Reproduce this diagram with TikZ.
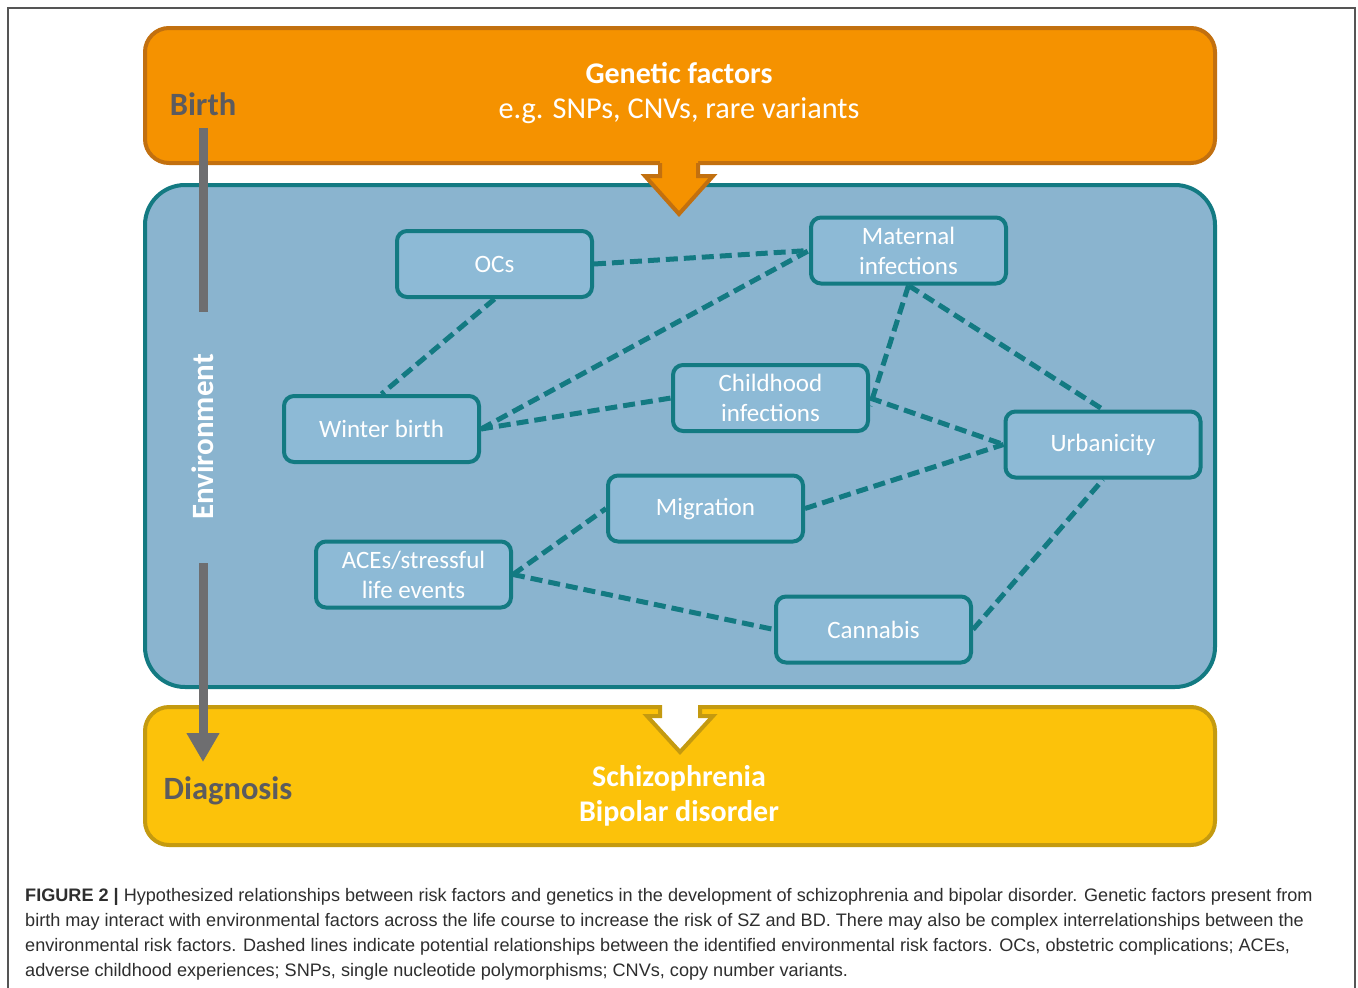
\documentclass[tikz,border=0pt]{standalone}
\usepackage{fontspec}
\setmainfont{Carlito}
\newfontfamily\capfont{Liberation Sans}
\usetikzlibrary{arrows.meta}
\definecolor{orfill}{HTML}{F59200}
\definecolor{ordraw}{HTML}{C2700F}
\definecolor{bluebg}{HTML}{8AB4CF}
\definecolor{teal}{HTML}{137A82}
\definecolor{nodefill}{HTML}{8DBAD6}
\definecolor{yelfill}{HTML}{FCC20A}
\definecolor{yeldraw}{HTML}{C49A10}
\definecolor{bargray}{HTML}{6E6E70}
\definecolor{txtgray}{HTML}{5B5B5F}
\definecolor{framegray}{HTML}{555555}
\definecolor{captxt}{HTML}{2E2E2E}
\tikzset{
  factor/.style={draw=teal, fill=nodefill, line width=4, rounded corners=10,
    minimum width=195, minimum height=66, align=center, text=white,
    font=\fontsize{25}{30}\selectfont, inner sep=0},
  link/.style={draw=teal, line width=5, dash pattern=on 12 off 6},
  bigbox/.style={line width=4, minimum width=1070, inner sep=0},
  title/.style={text=white, font=\fontsize{30}{35}\selectfont\bfseries, align=center},
  side/.style={text=txtgray, font=\fontsize{32.5}{36}\selectfont\bfseries},
  bar/.style={draw=bargray, line width=9}
}
\begin{document}
\begin{tikzpicture}[x=1pt,y=-1pt]
\useasboundingbox (0,0) rectangle (1358,988);
\fill[white] (0,0) rectangle (1358,988);
\draw[framegray, line width=1.2] (8,1000) -- (8,8) -- (1355,8) -- (1355,1000);
% big boxes
\node[bigbox, draw=ordraw, fill=orfill, rounded corners=24, minimum height=135] (gen) at (680,95.5) {};
\node[bigbox, draw=teal, fill=bluebg, rounded corners=40, minimum height=502] (env) at (680,436) {};
\node[bigbox, draw=yeldraw, fill=yelfill, rounded corners=24, minimum height=138] (diag) at (680,776) {};
% top arrow
\fill[orfill] (660,158) -- (660,176) -- (645,176) -- (679,214) -- (713,176) -- (698,176) -- (698,158) -- cycle;
\draw[ordraw, line width=4, line join=miter] (660,163) -- (660,176) -- (645,176) -- (679,214) -- (713,176) -- (698,176) -- (698,163);
% bottom arrow
\fill[white] (660,700) -- (660,716) -- (647,716) -- (680,752) -- (713,716) -- (700,716) -- (700,700) -- cycle;
\draw[yeldraw, line width=4, line join=miter] (660,705) -- (660,716) -- (647,716) -- (680,752) -- (713,716) -- (700,716) -- (700,705);
% texts of big boxes
\node[title] (gentxt) at (679,93) {Genetic factors\\[0pt]\mdseries\fontsize{30.3}{35}\selectfont e.g. SNPs, CNVs, rare variants};
\node[title] (diagtxt) at (679,796) {Schizophrenia\\[0pt]Bipolar disorder};
\node[side] (birth) at (203,104) {Birth};
\node[side] (dgn) at (228,791) {Diagnosis};
\node[title, rotate=90, font=\fontsize{31}{35}\selectfont\bfseries] (envtxt) at (203,437) {Environment};
% time bar
\coordinate (b1) at (203,128);
\coordinate (b2) at (203,312);
\coordinate (b3) at (203,563);
\coordinate (b4) at (203,762);
\draw[bar] (b1) -- (b2);
\draw[bar, -{Triangle[width=31,length=29]}] (b3) -- (b4);
% factor nodes
\node[factor] (ocs) at (494.5,264) {OCs};
\node[factor] (mat) at (908.5,250.5) {Maternal\\infections};
\node[factor] (child) at (770.5,398) {Childhood\\infections};
\node[factor] (win) at (381.5,429) {Winter birth};
\node[factor] (urb) at (1103,444.5) {Urbanicity};
\node[factor] (mig) at (705.5,508.5) {Migration};
\node[factor] (ace) at (413.5,574.5) {ACEs/stressful\\life events};
\node[factor] (can) at (873.5,629.5) {Cannabis};
% links
\draw[link] (ocs.east) -- (mat.west);
\draw[link] (ocs.south) -- (win.north);
\draw[link] (win.east) -- (mat.west);
\draw[link] (win.east) -- (child.west);
\draw[link] (mat.south) -- ([yshift=-8]child.east);
\draw[link] (mat.south) -- (urb.north);
\draw[link] (child.east) -- (urb.west);
\draw[link] (mig.east) -- (urb.west);
\draw[link] (ace.east) -- (mig.west);
\draw[link] (ace.east) -- (can.west);
\draw[link] (can.east) -- (urb.south);
% caption
\node[anchor=north west, align=left, text=captxt, inner sep=0,
  font=\capfont\fontsize{18.1}{25}\selectfont] (cap) at (25,888)
{\textbf{FIGURE 2 |} Hypothesized relationships between risk factors and genetics in the development of schizophrenia and bipolar disorder. Genetic factors present from\\
birth may interact with environmental factors across the life course to increase the risk of SZ and BD. There may also be complex interrelationships between the\\
environmental risk factors. Dashed lines indicate potential relationships between the identified environmental risk factors. OCs, obstetric complications; ACEs,\\
adverse childhood experiences; SNPs, single nucleotide polymorphisms; CNVs, copy number variants.};
\end{tikzpicture}
\end{document}
